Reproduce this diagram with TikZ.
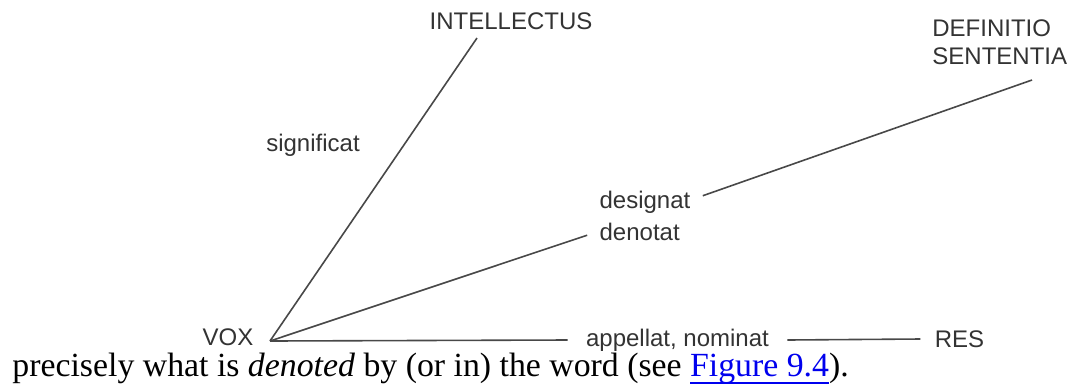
\documentclass[tikz,border=0pt]{standalone}
\usepackage{fontspec}
\setmainfont{Liberation Serif}
\setsansfont{Liberation Sans}
\usetikzlibrary{positioning}

\definecolor{inkgray}{HTML}{333333}
\definecolor{linegray}{HTML}{484848}
\definecolor{linkblue}{HTML}{0000EE}

% underlined link text, rule kept close to the baseline
\newcommand{\linkul}[1]{\setbox0\hbox{#1}\rlap{\rule[-3.6pt]{\wd0}{0.7pt}}\box0}

\begin{document}
\begin{tikzpicture}[
  x=0.5pt, y=-0.5pt,
  term/.style={font=\sffamily\fontsize{12}{14}\selectfont, text=inkgray, inner sep=0pt, align=left},
  lbl/.style={font=\sffamily\fontsize{12}{16}\selectfont, text=inkgray, inner xsep=6pt, inner ysep=3pt, align=left},
  caption/.style={font=\fontsize{16.9}{20}\selectfont, text=black, inner sep=0pt},
  link/.style={-, line width=0.8pt, draw=linegray}
]
\useasboundingbox (0,0) rectangle (1071,387);

\node[term] (vox) at (228,337) {VOX};
\node[term] (intel) at (511,21) {INTELLECTUS};
\node[term, anchor=west] (defn) at (932,42) {DEFINITIO\\SENTENTIA};
\node[term] (res) at (959.5,339) {RES};

\node[term] (signif) at (313,145) {significat};
\node[lbl] (desig) at (645,216) {designat\\denotat};
\node[lbl, inner xsep=9pt] (appel) at (677.5,340) {appellat, nominat};

\coordinate (v) at (270,341);
\coordinate (itop) at (477,38);
\coordinate (dtop) at (1032,80);

\draw[link] (v) -- (itop);
\draw[link] (v) -- (desig) -- (dtop);
\draw[link] (v) -- (appel.west);
\draw[link] (appel.east) -- ([xshift=-7pt]res.west);

\node[caption, anchor=base west] (cap) at (12,376.5) {precisely what is \emph{denoted} by (or in) the word (see \textcolor{linkblue}{\linkul{Figure 9.4}}).};
\end{tikzpicture}
\end{document}
